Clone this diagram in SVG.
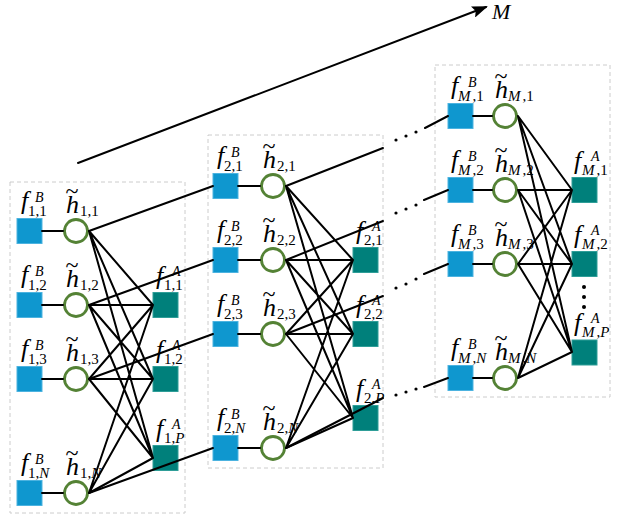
<svg xmlns="http://www.w3.org/2000/svg" width="637" height="516" viewBox="0 0 637 516">
<style>
.panel{fill:none;stroke:#cccccc;stroke-width:1;stroke-dasharray:4 3}
.bsq{fill:#0f97cf;stroke:#4cb3e0;stroke-width:1}
.tsq{fill:#00807b;stroke:#2f9e98;stroke-width:1}
.hc{fill:#ffffff;stroke:#548235;stroke-width:2.8}
.ln{stroke:#000;stroke-width:2;fill:none;stroke-linecap:round}
.lb{font-family:"Liberation Serif","Times New Roman",serif;fill:#000}
.f{font-style:italic;font-size:26px}
.tl{font-style:normal;font-size:24px}
.sub{font-style:normal;font-size:15px}
.sup{font-style:italic;font-size:14px}
.i{font-style:italic}
.dot{fill:#000}
</style>
<defs>
<marker id="ah" markerUnits="userSpaceOnUse" markerWidth="16" markerHeight="12" refX="14" refY="6" orient="auto">
<path d="M0,0 L16,6 L0,12 L3,6 z" fill="#000"/>
</marker>
</defs>

<g id="panels">
<rect id="panel1" class="panel" x="10" y="182" width="175" height="331"/>
<rect id="panel2" class="panel" x="208" y="135" width="175" height="333"/>
<rect id="panelM" class="panel" x="435" y="65" width="175" height="332"/>
</g>

<g id="axis-arrow">
<line class="ln" x1="78" y1="163" x2="486" y2="7" marker-end="url(#ah)"/>
<text class="lb f" x="492" y="19" style="font-size:22px">M</text>
</g>

<!-- Panel 1 nodes -->
<g id="fB11"><rect class="bsq" x="17" y="218.5" width="25" height="25"/><text class="lb"><tspan class="f" x="21" y="208.5">f</tspan><tspan class="sub" x="28" y="215.5">1,1</tspan><tspan class="sup" x="35" y="201.5">B</tspan></text></g>
<g id="fB12"><rect class="bsq" x="17" y="292.5" width="25" height="25"/><text class="lb"><tspan class="f" x="21" y="282.5">f</tspan><tspan class="sub" x="28" y="289.5">1,2</tspan><tspan class="sup" x="35" y="275.5">B</tspan></text></g>
<g id="fB13"><rect class="bsq" x="17" y="366.5" width="25" height="25"/><text class="lb"><tspan class="f" x="21" y="356.5">f</tspan><tspan class="sub" x="28" y="363.5">1,3</tspan><tspan class="sup" x="35" y="349.5">B</tspan></text></g>
<g id="fB1N"><rect class="bsq" x="17" y="480.5" width="25" height="25"/><text class="lb"><tspan class="f" x="21" y="470.5">f</tspan><tspan class="sub" x="28" y="477.5">1,<tspan class="i">N</tspan></tspan><tspan class="sup" x="35" y="463.5">B</tspan></text></g>

<g id="h11"><circle class="hc" cx="76" cy="231" r="11.5"/><text class="lb"><tspan class="tl" x="65.5" y="199">~</tspan><tspan class="f" x="66" y="213">h</tspan><tspan class="sub" x="80" y="216">1,1</tspan></text></g>
<g id="h12"><circle class="hc" cx="76" cy="305" r="11.5"/><text class="lb"><tspan class="tl" x="65.5" y="273">~</tspan><tspan class="f" x="66" y="287">h</tspan><tspan class="sub" x="80" y="290">1,2</tspan></text></g>
<g id="h13"><circle class="hc" cx="76" cy="379" r="11.5"/><text class="lb"><tspan class="tl" x="65.5" y="347">~</tspan><tspan class="f" x="66" y="361">h</tspan><tspan class="sub" x="80" y="364">1,3</tspan></text></g>
<g id="h1N"><circle class="hc" cx="76" cy="493" r="11.5"/><text class="lb"><tspan class="tl" x="65.5" y="461">~</tspan><tspan class="f" x="66" y="475">h</tspan><tspan class="sub" x="80" y="478">1,<tspan class="i">N</tspan></tspan></text></g>

<g id="fA11"><rect class="tsq" x="153" y="292.5" width="25" height="25"/><text class="lb"><tspan class="f" x="156" y="283.5">f</tspan><tspan class="sub" x="164" y="289.5">1,1</tspan><tspan class="sup" x="172" y="275.5">A</tspan></text></g>
<g id="fA12"><rect class="tsq" x="153" y="366.5" width="25" height="25"/><text class="lb"><tspan class="f" x="156" y="357.5">f</tspan><tspan class="sub" x="164" y="363.5">1,2</tspan><tspan class="sup" x="172" y="349.5">A</tspan></text></g>
<g id="fA1P"><rect class="tsq" x="153" y="445.5" width="25" height="25"/><text class="lb"><tspan class="f" x="156" y="436.5">f</tspan><tspan class="sub" x="164" y="442.5">1,<tspan class="i">P</tspan></tspan><tspan class="sup" x="172" y="428.5">A</tspan></text></g>

<!-- Panel 2 nodes -->
<g id="fB21"><rect class="bsq" x="213" y="173.5" width="25" height="25"/><text class="lb"><tspan class="f" x="217" y="163.5">f</tspan><tspan class="sub" x="224" y="170.5">2,1</tspan><tspan class="sup" x="231" y="156.5">B</tspan></text></g>
<g id="fB22"><rect class="bsq" x="213" y="247.5" width="25" height="25"/><text class="lb"><tspan class="f" x="217" y="237.5">f</tspan><tspan class="sub" x="224" y="244.5">2,2</tspan><tspan class="sup" x="231" y="230.5">B</tspan></text></g>
<g id="fB23"><rect class="bsq" x="213" y="321.5" width="25" height="25"/><text class="lb"><tspan class="f" x="217" y="311.5">f</tspan><tspan class="sub" x="224" y="318.5">2,3</tspan><tspan class="sup" x="231" y="304.5">B</tspan></text></g>
<g id="fB2N"><rect class="bsq" x="213" y="435.5" width="25" height="25"/><text class="lb"><tspan class="f" x="217" y="425.5">f</tspan><tspan class="sub" x="224" y="432.5">2,<tspan class="i">N</tspan></tspan><tspan class="sup" x="231" y="418.5">B</tspan></text></g>

<g id="h21"><circle class="hc" cx="273" cy="186" r="11.5"/><text class="lb"><tspan class="tl" x="262.5" y="154">~</tspan><tspan class="f" x="263" y="168">h</tspan><tspan class="sub" x="277" y="171">2,1</tspan></text></g>
<g id="h22"><circle class="hc" cx="273" cy="260" r="11.5"/><text class="lb"><tspan class="tl" x="262.5" y="228">~</tspan><tspan class="f" x="263" y="242">h</tspan><tspan class="sub" x="277" y="245">2,2</tspan></text></g>
<g id="h23"><circle class="hc" cx="273" cy="334" r="11.5"/><text class="lb"><tspan class="tl" x="262.5" y="302">~</tspan><tspan class="f" x="263" y="316">h</tspan><tspan class="sub" x="277" y="319">2,3</tspan></text></g>
<g id="h2N"><circle class="hc" cx="273" cy="448" r="11.5"/><text class="lb"><tspan class="tl" x="262.5" y="416">~</tspan><tspan class="f" x="263" y="430">h</tspan><tspan class="sub" x="277" y="433">2,<tspan class="i">N</tspan></tspan></text></g>

<g id="fA21"><rect class="tsq" x="353" y="247.5" width="25" height="25"/><text class="lb"><tspan class="f" x="356" y="238.5">f</tspan><tspan class="sub" x="364" y="244.5">2,1</tspan><tspan class="sup" x="372" y="230.5">A</tspan></text></g>
<g id="fA22"><rect class="tsq" x="353" y="321.5" width="25" height="25"/><text class="lb"><tspan class="f" x="356" y="312.5">f</tspan><tspan class="sub" x="364" y="318.5">2,2</tspan><tspan class="sup" x="372" y="304.5">A</tspan></text></g>
<g id="fA2P"><rect class="tsq" x="353" y="405.5" width="25" height="25"/><text class="lb"><tspan class="f" x="356" y="396.5">f</tspan><tspan class="sub" x="364" y="402.5">2,<tspan class="i">P</tspan></tspan><tspan class="sup" x="372" y="388.5">A</tspan></text></g>

<!-- Panel M nodes -->
<g id="fBM1"><rect class="bsq" x="448" y="103.5" width="25" height="25"/><text class="lb"><tspan class="f" x="451" y="93.5">f</tspan><tspan class="sub" x="458" y="100.5"><tspan class="i">M</tspan><tspan dx="2">,1</tspan></tspan><tspan class="sup" x="468" y="86.5">B</tspan></text></g>
<g id="fBM2"><rect class="bsq" x="448" y="177.5" width="25" height="25"/><text class="lb"><tspan class="f" x="451" y="167.5">f</tspan><tspan class="sub" x="458" y="174.5"><tspan class="i">M</tspan><tspan dx="2">,2</tspan></tspan><tspan class="sup" x="468" y="160.5">B</tspan></text></g>
<g id="fBM3"><rect class="bsq" x="448" y="251.5" width="25" height="25"/><text class="lb"><tspan class="f" x="451" y="241.5">f</tspan><tspan class="sub" x="458" y="248.5"><tspan class="i">M</tspan><tspan dx="2">,3</tspan></tspan><tspan class="sup" x="468" y="234.5">B</tspan></text></g>
<g id="fBMN"><rect class="bsq" x="448" y="365.5" width="25" height="25"/><text class="lb"><tspan class="f" x="451" y="355.5">f</tspan><tspan class="sub" x="458" y="362.5"><tspan class="i">M</tspan><tspan dx="2">,</tspan><tspan class="i">N</tspan></tspan><tspan class="sup" x="468" y="348.5">B</tspan></text></g>

<g id="hM1"><circle class="hc" cx="505" cy="116" r="11.5"/><text class="lb"><tspan class="tl" x="494.5" y="84">~</tspan><tspan class="f" x="495" y="98">h</tspan><tspan class="sub" x="508" y="101"><tspan class="i">M</tspan><tspan dx="2">,1</tspan></tspan></text></g>
<g id="hM2"><circle class="hc" cx="505" cy="190" r="11.5"/><text class="lb"><tspan class="tl" x="494.5" y="158">~</tspan><tspan class="f" x="495" y="172">h</tspan><tspan class="sub" x="508" y="175"><tspan class="i">M</tspan><tspan dx="2">,2</tspan></tspan></text></g>
<g id="hM3"><circle class="hc" cx="505" cy="264" r="11.5"/><text class="lb"><tspan class="tl" x="494.5" y="232">~</tspan><tspan class="f" x="495" y="246">h</tspan><tspan class="sub" x="508" y="249"><tspan class="i">M</tspan><tspan dx="2">,3</tspan></tspan></text></g>
<g id="hMN"><circle class="hc" cx="505" cy="378" r="11.5"/><text class="lb"><tspan class="tl" x="494.5" y="346">~</tspan><tspan class="f" x="495" y="360">h</tspan><tspan class="sub" x="508" y="363"><tspan class="i">M</tspan><tspan dx="2">,</tspan><tspan class="i">N</tspan></tspan></text></g>

<g id="fAM1"><rect class="tsq" x="572" y="177.5" width="25" height="25"/><text class="lb"><tspan class="f" x="574" y="168.5">f</tspan><tspan class="sub" x="582" y="174.5"><tspan class="i">M</tspan><tspan dx="2">,1</tspan></tspan><tspan class="sup" x="591" y="160.5">A</tspan></text></g>
<g id="fAM2"><rect class="tsq" x="572" y="251.5" width="25" height="25"/><text class="lb"><tspan class="f" x="574" y="242.5">f</tspan><tspan class="sub" x="582" y="248.5"><tspan class="i">M</tspan><tspan dx="2">,2</tspan></tspan><tspan class="sup" x="591" y="234.5">A</tspan></text></g>
<g id="fAMP"><rect class="tsq" x="572" y="340" width="25" height="25"/><text class="lb"><tspan class="f" x="574" y="331">f</tspan><tspan class="sub" x="582" y="337"><tspan class="i">M</tspan><tspan dx="2">,</tspan><tspan class="i">P</tspan></tspan><tspan class="sup" x="591" y="323">A</tspan></text></g>
<g id="vdots"><circle class="dot" cx="584" cy="287" r="2"/><circle class="dot" cx="584" cy="297" r="2"/><circle class="dot" cx="584" cy="307" r="2"/></g>

<g id="connectors">
<!-- panel 1 -->
<path class="ln" d="M42,231H63M42,305H63M42,379H63M42,493H63"/>
<path class="ln" d="M89,231L153,305M89,231L153,379M89,231L153,458
M89,305L153,305M89,305L153,379M89,305L153,458
M89,379L153,305M89,379L153,379M89,379L153,458
M89,493L153,305M89,493L153,379M89,493L153,458"/>
<path class="ln" d="M89,231L213,186M89,305L213,260M89,379L213,334M89,493L213,448"/>
<!-- panel 2 -->
<path class="ln" d="M238,186H260M238,260H260M238,334H260M238,448H260"/>
<path class="ln" d="M286,186L353,260M286,186L353,334M286,186L353,418
M286,260L353,260M286,260L353,334M286,260L353,418
M286,334L353,260M286,334L353,334M286,334L353,418
M286,448L353,260M286,448L353,334M286,448L353,418"/>
<path class="ln" d="M286,186L383,148M286,260L383,221M286,334L383,296M286,448L383,398"/>
<path class="ln" d="M425,128L448,116M424,200L448,190M424,274L448,264M424,387L448,378"/>
<g class="dot">
<circle cx="396" cy="140" r="1.6"/><circle cx="406" cy="136" r="1.6"/><circle cx="416" cy="132" r="1.6"/>
<circle cx="396" cy="213" r="1.6"/><circle cx="406" cy="209" r="1.6"/><circle cx="416" cy="205" r="1.6"/>
<circle cx="396" cy="288" r="1.6"/><circle cx="406" cy="284" r="1.6"/><circle cx="416" cy="279" r="1.6"/>
<circle cx="396" cy="395" r="1.6"/><circle cx="406" cy="392" r="1.6"/><circle cx="416" cy="389" r="1.6"/>
</g>
<!-- panel M -->
<path class="ln" d="M473,116H492M473,190H492M473,264H492M473,378H492"/>
<path class="ln" d="M518,116L572,190M518,116L572,264M518,116L572,352
M518,190L572,190M518,190L572,264M518,190L572,352
M518,264L572,190M518,264L572,264M518,264L572,352
M518,378L572,190M518,378L572,264M518,378L572,352"/>
</g>
</svg>
